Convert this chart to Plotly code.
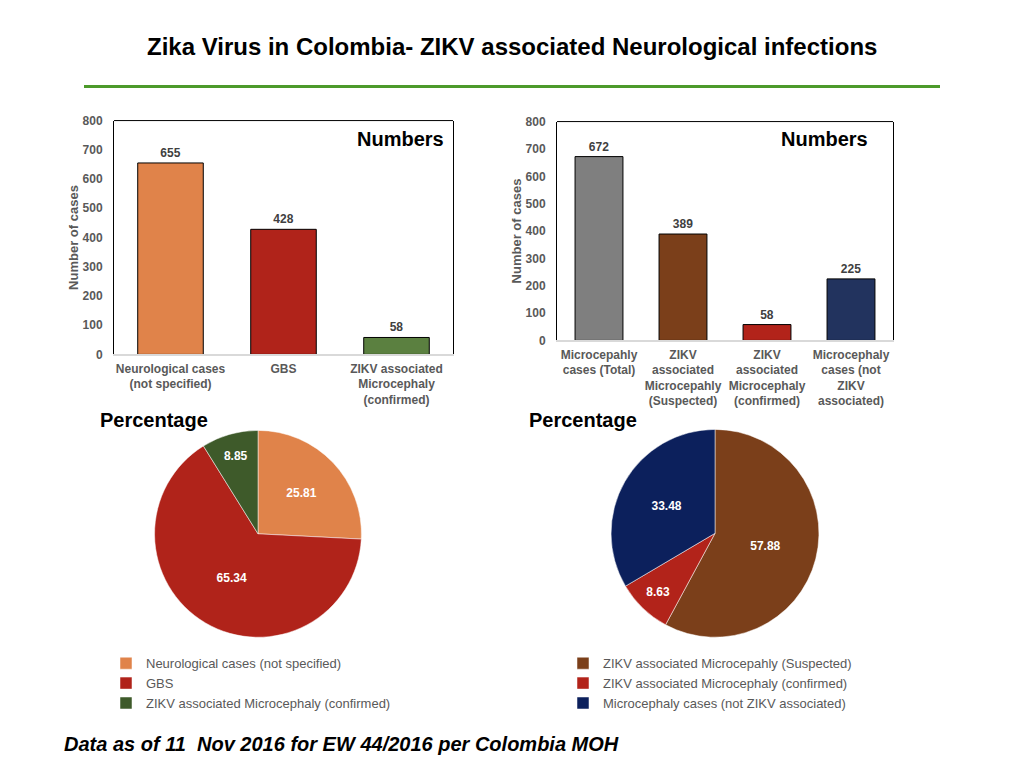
import plotly.graph_objects as go

# Page body has an 8px margin; size the figure to fill the 1024x768 window.
OFF = 8
W, H = 1024 - 2 * OFF, 768 - 2 * OFF
# measured vertical mapping of the screenshot (observed = SY * page_y + BY)
SY, BY = 0.982, 6.5

# ---- data ----
neuro_cats = ["Neurological cases<br>(not specified)", "GBS",
              "ZIKV associated<br>Microcephaly<br>(confirmed)"]
neuro_vals = [655, 428, 58]
neuro_colors = ["#E0834A", "#B0231A", "#5B8040"]

micro_cats = ["Microcepahly<br>cases (Total)", "ZIKV<br>associated<br>Microcepahly<br>(Suspected)",
              "ZIKV<br>associated<br>Microcephaly<br>(confirmed)",
              "Microcephaly<br>cases (not<br>ZIKV<br>associated)"]
micro_vals = [672, 389, 58, 225]
micro_colors = ["#7F7F7F", "#7B3F1A", "#B2231A", "#22335E"]

pie1_labels = ["Neurological cases (not specified)", "GBS",
               "ZIKV associated Microcephaly (confirmed)"]
pie1_vals = [25.81, 65.34, 8.85]
pie1_colors = ["#E0834A", "#B0231A", "#3E5A2A"]

pie2_labels = ["ZIKV associated Microcepahly (Suspected)",
               "ZIKV associated Microcephaly (confirmed)",
               "Microcephaly cases (not ZIKV associated)"]
pie2_vals = [57.88, 8.63, 33.48]
pie2_colors = ["#7B3F1A", "#B2231A", "#0C205C"]

FONT = "Liberation Sans, Arial, sans-serif"
GREY = "#595959"


def px(x):
    return (x - OFF) / W


def py(y):
    fig_y = (y - BY) / SY - OFF
    return 1 - fig_y / H


fig = go.Figure()

fig.add_trace(go.Bar(
    x=neuro_cats, y=neuro_vals, marker=dict(color=neuro_colors, line=dict(color="black", width=1)),
    width=0.58, texttemplate="%{y}", textposition="outside", cliponaxis=False,
    textfont=dict(family=FONT, size=12, color="#404040", weight="bold"), showlegend=False,
    xaxis="x", yaxis="y"))

fig.add_trace(go.Bar(
    x=micro_cats, y=micro_vals, marker=dict(color=micro_colors, line=dict(color="black", width=1)),
    width=0.57, texttemplate="%{y}", textposition="outside", cliponaxis=False,
    textfont=dict(family=FONT, size=12, color="#404040", weight="bold"), showlegend=False,
    xaxis="x2", yaxis="y2"))

fig.add_trace(go.Pie(
    labels=pie1_labels, values=pie1_vals, marker=dict(colors=pie1_colors, line=dict(color="white", width=0.5)),
    sort=False, direction="clockwise", rotation=0, texttemplate="%{value:.2f}",
    textposition="inside", insidetextorientation="horizontal",
    textfont=dict(family=FONT, size=12, color="white", weight="bold"),
    domain=dict(x=[px(154), px(362)], y=[py(637), py(430)]),
    legend="legend", legendgroup="left", hoverinfo="label+value"))

fig.add_trace(go.Pie(
    labels=pie2_labels, values=pie2_vals, marker=dict(colors=pie2_colors, line=dict(color="white", width=0.5)),
    sort=False, direction="clockwise", rotation=0, texttemplate="%{value:.2f}",
    textposition="inside", insidetextorientation="horizontal",
    textfont=dict(family=FONT, size=12, color="white", weight="bold"),
    domain=dict(x=[px(611), px(819)], y=[py(637), py(429)]),
    legend="legend2", legendgroup="right", hoverinfo="label+value"))

tickfont = dict(family=FONT, size=12, color=GREY, weight="bold")

xaxis_common = dict(showline=True, linecolor="#D9D9D9", linewidth=1.5,
                    showgrid=False, zeroline=False, ticks="", tickfont=tickfont,
                    ticklabelstandoff=2)

yaxis_common = dict(showline=True, mirror=True, linecolor="black", linewidth=1,
                    showgrid=False, zeroline=False, ticks="", tickfont=tickfont,
                    ticklabelstandoff=8,
                    range=[0, 800], dtick=100,
                    title=dict(text="Number of cases",
                               font=dict(family=FONT, size=13, color=GREY, weight="bold"),
                               standoff=1))

legend_font = dict(family=FONT, size=13, color=GREY)


def ann(text, x, y, size, xanchor="center", italic=False):
    return dict(text=text, x=px(x), y=py(y), xref="paper", yref="paper", showarrow=False,
                font=dict(family=FONT, size=size, color="black", weight="bold",
                          style="italic" if italic else "normal"),
                xanchor=xanchor, yanchor="middle")


fig.update_layout(
    width=W, height=H,
    margin=dict(l=0, r=0, t=0, b=0),
    paper_bgcolor="white", plot_bgcolor="white",
    font=dict(family=FONT, color=GREY),
    xaxis=dict(xaxis_common, domain=[px(114), px(453)], anchor="y"),
    yaxis=dict(yaxis_common, domain=[py(354), py(120)], anchor="x"),
    xaxis2=dict(xaxis_common, domain=[px(557), px(893)], anchor="y2"),
    yaxis2=dict(yaxis_common, domain=[py(340), py(121)], anchor="x2"),
    legend=dict(x=px(106), y=py(648), xanchor="left", yanchor="top",
                font=legend_font, bgcolor="rgba(0,0,0,0)", itemwidth=30),
    legend2=dict(x=px(563), y=py(648), xanchor="left", yanchor="top",
                 font=legend_font, bgcolor="rgba(0,0,0,0)", itemwidth=30),
    shapes=[
        dict(type="line", xref="paper", yref="paper", x0=px(84), x1=px(940),
             y0=py(86), y1=py(86), line=dict(color="#4C9A2A", width=3)),
        dict(type="line", xref="x domain", yref="y domain", x0=0, x1=1, y0=1, y1=1,
             line=dict(color="black", width=1)),
        dict(type="line", xref="x2 domain", yref="y2 domain", x0=0, x1=1, y0=1, y1=1,
             line=dict(color="black", width=1)),
    ],
    annotations=[
        ann("Zika Virus in Colombia- ZIKV associated Neurological infections", 512, 46, 24),
        ann("Numbers", 400, 138, 20),
        ann("Numbers", 824, 138, 20),
        ann("Percentage", 154, 420, 20),
        ann("Percentage", 583, 420, 20),
        ann("Data as of 11  Nov 2016 for EW 44/2016 per Colombia MOH", 62, 744, 20,
            xanchor="left", italic=True),
    ],
)

fig.write_html("out.html")
